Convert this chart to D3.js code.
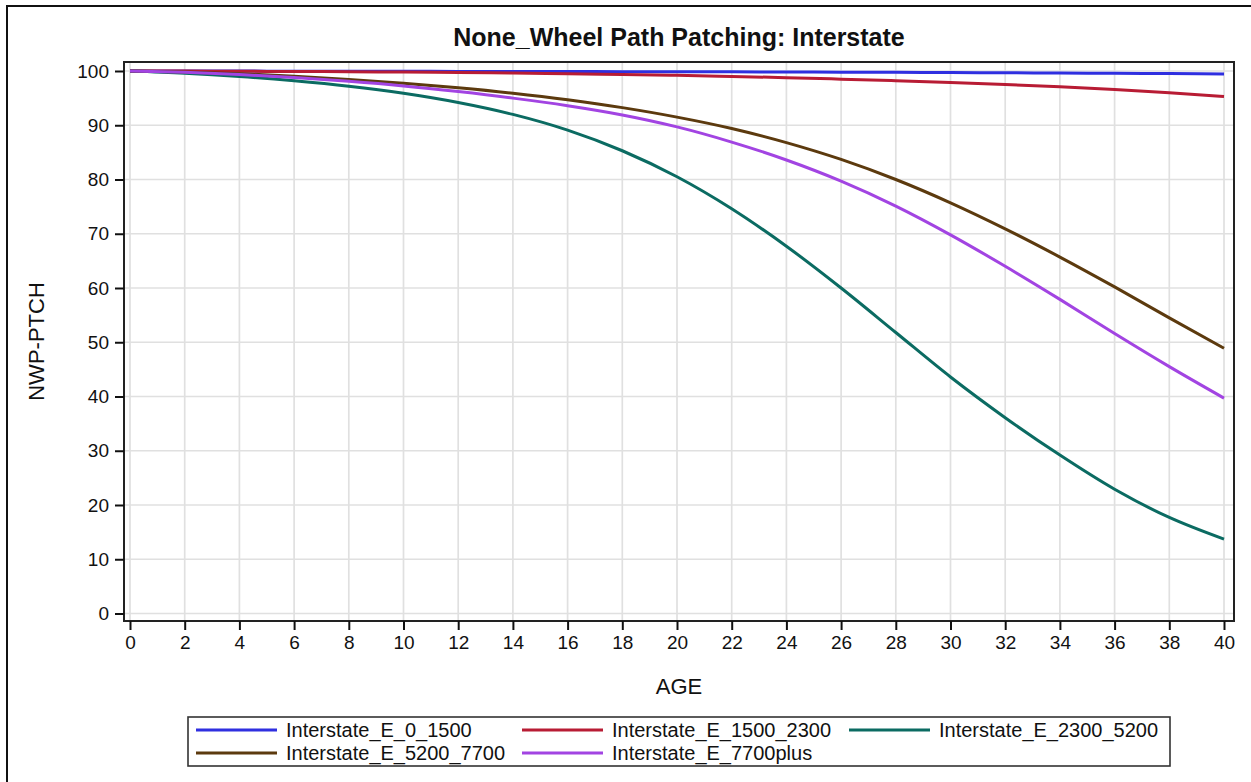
<!DOCTYPE html>
<html>
<head>
<meta charset="utf-8">
<script src="https://cdn.jsdelivr.net/npm/d3@7"></script>
<style>
  html, body { margin: 0; padding: 0; background: #fff; }
  svg { display: block; font-family: "Liberation Sans", Arial, sans-serif; }
</style>
</head>
<body>
<svg id="chart" width="1251" height="782"></svg>
<script>
// Pavement condition (NWP-PTCH) by age for each interstate traffic group
const ages = [0, 2, 4, 6, 8, 10, 12, 14, 16, 18, 20, 22, 24, 26, 28, 30, 32, 34, 36, 38, 40];

const e0_1500    = [100, 99.99, 99.98, 99.97, 99.96, 99.95, 99.93, 99.92, 99.9, 99.88, 99.86, 99.84, 99.81, 99.78, 99.75, 99.72, 99.68, 99.63, 99.58, 99.52, 99.45];
const e1500_2300 = [100, 99.98, 99.95, 99.91, 99.86, 99.8, 99.72, 99.62, 99.5, 99.36, 99.2, 99.0, 98.77, 98.5, 98.2, 97.87, 97.5, 97.08, 96.6, 96.0, 95.3];
const e2300_5200 = [100, 99.6, 99.0, 98.2, 97.2, 95.9, 94.2, 92.0, 89.1, 85.3, 80.5, 74.6, 67.7, 60.0, 51.8, 43.6, 36.1, 29.2, 22.9, 17.7, 13.7];
const e5200_7700 = [100, 99.8, 99.5, 99.05, 98.45, 97.75, 96.9, 95.9, 94.7, 93.25, 91.5, 89.4, 86.8, 83.7, 80.0, 75.7, 70.9, 65.7, 60.2, 54.5, 48.9];
const e7700plus  = [100, 99.75, 99.35, 98.8, 98.1, 97.25, 96.2, 95.0, 93.6, 91.9, 89.7, 86.9, 83.6, 79.7, 75.1, 69.8, 64.0, 57.9, 51.6, 45.5, 39.7];

const seriesNames  = ["Interstate_E_0_1500", "Interstate_E_1500_2300", "Interstate_E_2300_5200", "Interstate_E_5200_7700", "Interstate_E_7700plus"];
const seriesValues = [e0_1500, e1500_2300, e2300_5200, e5200_7700, e7700plus];
const seriesColors = ["#2f2fe0", "#b81c34", "#0b6b62", "#5c3a0e", "#a244e2"];

const xTicks = d3.range(0, 41, 2);
const yTicks = d3.range(0, 101, 10);

const titleText = "None_Wheel Path Patching: Interstate";
const xLabel = "AGE";
const yLabel = "NWP-PTCH";

const svg = d3.select("#chart");

// outer frame of the graph
svg.append("rect")
  .attr("x", 7).attr("y", 6).attr("width", 1300).attr("height", 900)
  .attr("fill", "none").attr("stroke", "#111").attr("stroke-width", 2);

// plot wall
const wall = { left: 124, top: 62, right: 1234, bottom: 621 };

const x = d3.scaleLinear().domain([0, 40]).range([130, 1224]);
const y = d3.scaleLinear().domain([0, 100]).range([613.5, 71]);

// grid lines
const grid = svg.append("g");
grid.selectAll("line.vx").data(xTicks).join("line")
  .attr("x1", d => x(d)).attr("x2", d => x(d))
  .attr("y1", wall.top).attr("y2", wall.bottom)
  .attr("stroke", "#e0e0e0").attr("stroke-width", 1.7);
grid.selectAll("line.hy").data(yTicks).join("line")
  .attr("x1", wall.left).attr("x2", wall.right)
  .attr("y1", d => y(d)).attr("y2", d => y(d))
  .attr("stroke", "#e0e0e0").attr("stroke-width", 1.7);

// curves
const line = d3.line()
  .x((d, i) => x(ages[i]))
  .y(d => y(d))
  .curve(d3.curveMonotoneX);

svg.append("g").selectAll("path").data(seriesValues).join("path")
  .attr("d", d => line(d))
  .attr("fill", "none")
  .attr("stroke", (d, i) => seriesColors[i])
  .attr("stroke-width", 3)
  .attr("stroke-linejoin", "round");

// frame around plot
svg.append("rect")
  .attr("x", wall.left).attr("y", wall.top)
  .attr("width", wall.right - wall.left).attr("height", wall.bottom - wall.top)
  .attr("fill", "none").attr("stroke", "#222").attr("stroke-width", 2);

// axes
const xAxis = d3.axisBottom(x).tickValues(xTicks).tickSize(9).tickPadding(6).tickSizeOuter(0);
const gx = svg.append("g").attr("transform", `translate(0,${wall.bottom})`).call(xAxis);
gx.select(".domain").remove();
gx.selectAll(".tick line").attr("stroke", "#111").attr("stroke-width", 2);
gx.selectAll(".tick text").attr("fill", "#111").style("font-size", "19px")
  .style("font-family", "Liberation Sans, Arial, sans-serif");

const yAxis = d3.axisLeft(y).tickValues(yTicks).tickSize(9).tickPadding(6).tickSizeOuter(0);
const gy = svg.append("g").attr("transform", `translate(${wall.left},0)`).call(yAxis);
gy.select(".domain").remove();
gy.selectAll(".tick line").attr("stroke", "#111").attr("stroke-width", 2);
gy.selectAll(".tick text").attr("fill", "#111").style("font-size", "19px")
  .style("font-family", "Liberation Sans, Arial, sans-serif");

// title and axis labels
svg.append("text")
  .attr("x", (wall.left + wall.right) / 2).attr("y", 46)
  .attr("text-anchor", "middle")
  .style("font-size", "25px").style("font-weight", "bold").attr("fill", "#111")
  .text(titleText);

svg.append("text")
  .attr("x", (wall.left + wall.right) / 2).attr("y", 694)
  .attr("text-anchor", "middle")
  .style("font-size", "22px").attr("fill", "#111")
  .text(xLabel);

svg.append("text")
  .attr("transform", `translate(44,${(wall.top + wall.bottom) / 2}) rotate(-90)`)
  .attr("text-anchor", "middle")
  .style("font-size", "22px").attr("fill", "#111")
  .text(yLabel);

// legend
const legend = svg.append("g");
legend.append("rect")
  .attr("x", 188).attr("y", 717).attr("width", 982).attr("height", 49)
  .attr("fill", "#fff").attr("stroke", "#333").attr("stroke-width", 1.6);

const colX = [196, 522, 849];
const rowY = [730, 753];
const items = legend.selectAll("g.item").data(seriesNames).join("g")
  .attr("transform", (d, i) => `translate(${colX[i % 3]},${rowY[Math.floor(i / 3)]})`);
items.append("line")
  .attr("x1", 0).attr("x2", 81).attr("y1", 0).attr("y2", 0)
  .attr("stroke", (d, i) => seriesColors[i]).attr("stroke-width", 3);
items.append("text")
  .attr("x", 90).attr("y", 7)
  .style("font-size", "20px").attr("fill", "#111")
  .text(d => d);
</script>
</body>
</html>
